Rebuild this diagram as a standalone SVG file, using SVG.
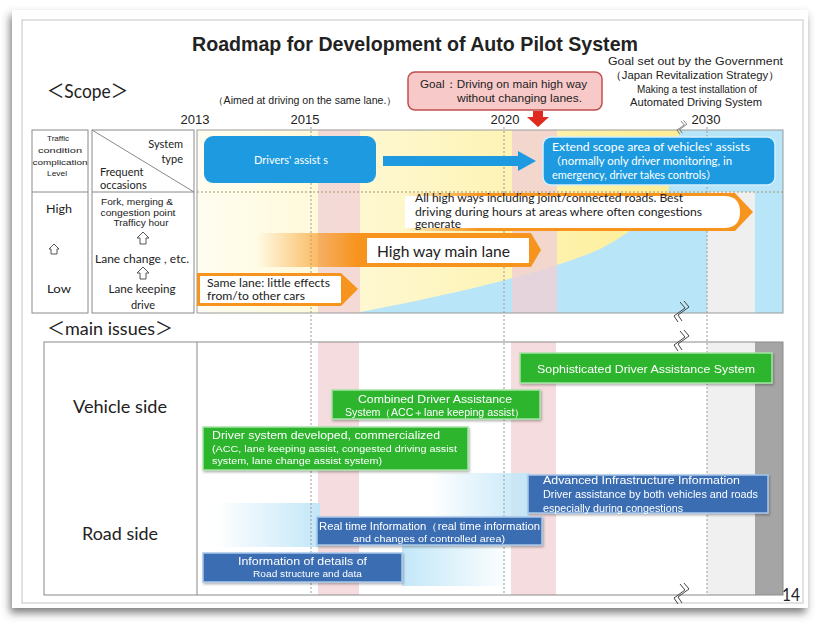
<svg xmlns="http://www.w3.org/2000/svg" width="817" height="633" viewBox="0 0 817 633">
<defs>
<style>
text{font-family:"Liberation Sans",Arial,sans-serif;fill:#222}
.cal{font-family:"Lato","Open Sans","Liberation Sans","Noto Sans CJK JP",sans-serif}
.w{fill:#fff}
.frame{fill:none;stroke:#8a8a8a;stroke-width:1}
.dash{stroke:#9a9a9a;stroke-width:1;stroke-dasharray:2 2;fill:none}
.gbox{fill:#2fb52f;stroke:#a6e3a6;stroke-width:1.5}
.bbox{fill:#3b6db3;stroke:#a9c8ea;stroke-width:1.5}
.sky{fill:#1e9be0}
.wave{fill:none;stroke:#444;stroke-width:1}
.orange{fill:#f7941d}
.uparr{fill:#fff;stroke:#555;stroke-width:1}
</style>
<linearGradient id="yel" x1="197" y1="0" x2="650" y2="0" gradientUnits="userSpaceOnUse">
<stop offset="0" stop-color="#fffdf1"/><stop offset="1" stop-color="#fdef9a"/></linearGradient>
<linearGradient id="orFade1" x1="257" y1="0" x2="357" y2="0" gradientUnits="userSpaceOnUse">
<stop offset="0" stop-color="#f7941d" stop-opacity="0"/><stop offset="1" stop-color="#f7941d"/></linearGradient>
<linearGradient id="orFade2" x1="405" y1="0" x2="480" y2="0" gradientUnits="userSpaceOnUse">
<stop offset="0" stop-color="#f7941d" stop-opacity="0"/><stop offset="1" stop-color="#f7941d"/></linearGradient>
<linearGradient id="glowL" x1="0" y1="0" x2="1" y2="0">
<stop offset="0" stop-color="#c3e7f8" stop-opacity="0"/><stop offset="1" stop-color="#c3e7f8"/></linearGradient>
<linearGradient id="glowR" x1="0" y1="0" x2="1" y2="0">
<stop offset="0" stop-color="#c3e7f8"/><stop offset="1" stop-color="#c3e7f8" stop-opacity="0"/></linearGradient>
<filter id="sh" x="-5%" y="-5%" width="110%" height="115%">
<feDropShadow dx="-2" dy="5" stdDeviation="4" flood-color="#444" flood-opacity="0.7"/></filter>
<filter id="bs" x="-10%" y="-20%" width="120%" height="150%">
<feDropShadow dx="1" dy="1.5" stdDeviation="1" flood-color="#000" flood-opacity="0.3"/></filter>
<path id="wv" d="M0,0 L5,6 L-6,14 L-2,20 M4,-1 L9,5 L-2,13 L2,19"/>
</defs>

<!-- card -->
<rect x="12" y="10" width="796" height="598" fill="#fff" filter="url(#sh)"/>
<rect x="22" y="20" width="781" height="583" fill="none" stroke="#c4c4c4" stroke-width="1"/>

<!-- headings -->
<text x="192" y="51" font-size="21" font-weight="bold" textLength="446" lengthAdjust="spacingAndGlyphs">Roadmap for Development of Auto Pilot System</text>
<text class="cal" x="47" y="98" font-size="19" textLength="81" lengthAdjust="spacingAndGlyphs">＜Scope＞</text>
<text x="213" y="104" font-size="10" textLength="184" lengthAdjust="spacingAndGlyphs">（Aimed at driving on the same lane.）</text>
<text x="195" y="124" font-size="13" text-anchor="middle">2013</text>
<text x="305" y="124" font-size="13" text-anchor="middle">2015</text>
<text x="505" y="124" font-size="13" text-anchor="middle">2020</text>
<text x="706" y="124" font-size="13" text-anchor="middle">2030</text>
<g id="gov-goal">
<text x="608" y="65" font-size="10.5" textLength="175" lengthAdjust="spacingAndGlyphs">Goal set out by the Government</text>
<text x="610" y="79" font-size="10.5" textLength="170" lengthAdjust="spacingAndGlyphs">（Japan Revitalization Strategy）</text>
<text x="637" y="93" font-size="10" textLength="120" lengthAdjust="spacingAndGlyphs">Making a test installation of</text>
<text x="630" y="106" font-size="10" textLength="132" lengthAdjust="spacingAndGlyphs">Automated Driving System</text>
</g>
<g id="goal-box">
<rect x="408" y="72" width="194" height="38" rx="7" fill="#f8c9c9" stroke="#c0504d" stroke-width="1.5"/>
<text x="420" y="88" font-size="10.5" textLength="167" lengthAdjust="spacingAndGlyphs">Goal：Driving on main high way</text>
<text x="457" y="102" font-size="10.5" textLength="125" lengthAdjust="spacingAndGlyphs">without changing lanes.</text>
</g>

<!-- upper table left -->
<g id="scope-table">
<rect class="frame" x="32" y="130" width="56" height="183" fill="#fff"/>
<rect class="frame" x="92" y="130" width="102" height="183" fill="#fff"/>
<line x1="32" y1="192" x2="88" y2="192" stroke="#8a8a8a"/>
<line x1="92" y1="192" x2="194" y2="192" stroke="#8a8a8a"/>
<line x1="92" y1="130" x2="194" y2="192" stroke="#8a8a8a"/>
<g class="cal" font-size="8" text-anchor="middle">
<text x="58" y="141" textLength="22" lengthAdjust="spacingAndGlyphs">Traffic</text>
<text x="60" y="153" textLength="44" lengthAdjust="spacingAndGlyphs">condition</text>
<text x="60" y="165" textLength="55" lengthAdjust="spacingAndGlyphs">complication</text>
<text x="57" y="176" textLength="20" lengthAdjust="spacingAndGlyphs">Level</text>
</g>
<text class="cal" x="183" y="148" font-size="11" text-anchor="end">System</text>
<text class="cal" x="183" y="163" font-size="11" text-anchor="end">type</text>
<text class="cal" x="100" y="176" font-size="11">Frequent</text>
<text class="cal" x="100" y="189" font-size="11">occasions</text>
<text class="cal" x="59" y="213" font-size="12" text-anchor="middle" textLength="26" lengthAdjust="spacingAndGlyphs">High</text>
<path class="uparr" d="M54,244 L59,249 L57,249 L57,254 L51,254 L51,249 L49,249 Z"/>
<text class="cal" x="59" y="293" font-size="12" text-anchor="middle" textLength="24" lengthAdjust="spacingAndGlyphs">Low</text>
<g class="cal" font-size="8.5" text-anchor="middle">
<text x="137" y="205" textLength="72" lengthAdjust="spacingAndGlyphs">Fork, merging &amp;</text>
<text x="138" y="216" textLength="75" lengthAdjust="spacingAndGlyphs">congestion  point</text>
<text x="141" y="226" textLength="55" lengthAdjust="spacingAndGlyphs">Trafficy hour</text>
</g>
<path class="uparr" d="M143,232 L149,238 L146,238 L146,244 L140,244 L140,238 L137,238 Z"/>
<text class="cal" x="142" y="263" font-size="10.5" text-anchor="middle" textLength="94" lengthAdjust="spacingAndGlyphs">Lane change , etc.</text>
<path class="uparr" d="M143,267 L149,273 L146,273 L146,279 L140,279 L140,273 L137,273 Z"/>
<text class="cal" x="142" y="293" font-size="11" text-anchor="middle" textLength="67" lengthAdjust="spacingAndGlyphs">Lane keeping</text>
<text class="cal" x="143" y="309" font-size="11" text-anchor="middle">drive</text>
</g>

<!-- upper chart background -->
<g id="scope-chart-bg">
<rect x="197" y="130" width="586" height="183" fill="url(#yel)"/>
<path d="M355,313 C420,301 540,276 600,249 C630,234 655,212 668,192 L680,130 L783,130 L783,313 Z" fill="#b9e5f8"/>
<rect x="318" y="130" width="42" height="183" fill="#f0cfd5" opacity="0.75"/>
<rect x="512" y="130" width="45" height="183" fill="#f0cfd5" opacity="0.8"/>
<rect x="707" y="192" width="48" height="121" fill="#efefef"/>
<line x1="197" y1="192" x2="783" y2="192" stroke="#a8956a" stroke-dasharray="2 2"/>
<rect x="197" y="130" width="586" height="183" fill="none" stroke="#9a9a9a"/>
</g>

<!-- lower section -->
<text class="cal" x="47" y="335" font-size="18" textLength="126" lengthAdjust="spacingAndGlyphs">＜main issues＞</text>
<g id="issues-bg">
<rect x="44" y="342" width="739" height="253" fill="#fff"/>
<rect x="318" y="342" width="41" height="253" fill="#f2d3d6" opacity="0.8"/>
<rect x="511" y="342" width="45" height="253" fill="#f2d3d6" opacity="0.8"/>
<rect x="707" y="342" width="48" height="253" fill="#f0f0f0"/>
<rect x="755" y="342" width="28" height="253" fill="#a5a5a5"/>
<rect x="215" y="503" width="105" height="44" fill="url(#glowL)"/>
<rect x="402" y="538" width="110" height="48" fill="url(#glowR)"/>
<rect x="430" y="473" width="100" height="44" fill="url(#glowL)"/>
<rect x="44" y="342" width="739" height="253" fill="none" stroke="#8a8a8a"/>
<line x1="197" y1="342" x2="197" y2="595" stroke="#8a8a8a"/>
<text class="cal" x="73" y="413" font-size="17" textLength="94" lengthAdjust="spacingAndGlyphs">Vehicle side</text>
<text class="cal" x="82" y="540" font-size="17" textLength="76" lengthAdjust="spacingAndGlyphs">Road side</text>
</g>

<!-- year guides -->
<g id="guides" class="dash">
<line x1="311" y1="127" x2="311" y2="595"/>
<line x1="504" y1="127" x2="504" y2="595"/>
<line x1="707" y1="127" x2="707" y2="595"/>
</g>
<g id="breaks" class="wave">
<use href="#wv" transform="translate(681,121) scale(0.65)"/>
<use href="#wv" x="680" y="302"/>
<use href="#wv" x="680" y="331"/>
<use href="#wv" x="680" y="584"/>
</g>

<!-- scope nodes -->
<g id="drivers-assist">
<rect class="sky" x="204" y="136" width="172" height="47" rx="9"/>
<text class="cal w" x="291" y="164" font-size="11" text-anchor="middle">Drivers' assist s</text>
</g>
<g id="extend-scope">
<rect class="sky" x="543" y="137" width="232" height="48" rx="8" stroke="#d3f0fc" stroke-width="1.5"/>
<text class="cal w" x="552" y="151" font-size="10.5" textLength="198" lengthAdjust="spacingAndGlyphs">Extend scope area of vehicles' assists</text>
<text class="cal w" x="550" y="165" font-size="10.5" textLength="182" lengthAdjust="spacingAndGlyphs">（normally only driver monitoring,  in</text>
<text class="cal w" x="552" y="179" font-size="10.5" textLength="165" lengthAdjust="spacingAndGlyphs">emergency, driver  takes controls）</text>
</g>
<g id="all-highways">
<path d="M405,193 L735,193 L753,212 L735,231 L405,231 Z" fill="url(#orFade2)"/>
<path d="M405,196 L724,196 Q740,196 740,212 Q740,228 724,228 L405,228 Z" fill="#fff"/>
<text class="cal" x="415" y="202" font-size="10.5" textLength="268" lengthAdjust="spacingAndGlyphs">All high ways including joint/connected roads. Best</text>
<text class="cal" x="415" y="216" font-size="10.5" textLength="287" lengthAdjust="spacingAndGlyphs">driving during hours at areas where often congestions</text>
<text class="cal" x="415" y="228" font-size="10.5" textLength="46" lengthAdjust="spacingAndGlyphs">generate</text>
</g>
<g id="highway-main-lane">
<path d="M257,233 L531,233 L541,250 L531,267 L257,267 Z" fill="url(#orFade1)"/>
<rect x="367" y="238" width="162" height="25" fill="#fff"/>
<text class="cal" x="377" y="257" font-size="15" textLength="133" lengthAdjust="spacingAndGlyphs">High way main lane</text>
</g>
<g id="same-lane">
<path class="orange" d="M197,273 L341,273 L358,289 L341,306 L197,306 Z"/>
<rect x="200" y="276" width="141" height="27" fill="#fff"/>
<text class="cal" x="207" y="287" font-size="10.5" textLength="123" lengthAdjust="spacingAndGlyphs">Same lane: little effects</text>
<text class="cal" x="207" y="300" font-size="10.5" textLength="98" lengthAdjust="spacingAndGlyphs">from/to other cars</text>
</g>

<!-- connectors -->
<g id="connectors">
<rect class="sky" x="383" y="156" width="136" height="10"/>
<polygon class="sky" points="518,151 536,161 518,171"/>
<polygon points="533,111 543,111 543,117 549,117 538,127 527,117 533,117" fill="#e02a1f"/>
</g>

<!-- issue nodes -->
<g id="sophisticated" filter="url(#bs)">
<rect class="gbox" x="520" y="353" width="252" height="30"/>
<text class="w" x="537" y="373" font-size="11" textLength="218" lengthAdjust="spacingAndGlyphs">Sophisticated Driver Assistance System</text>
</g>
<g id="combined" filter="url(#bs)">
<rect class="gbox" x="332" y="390" width="208" height="29"/>
<text class="w" x="358" y="403" font-size="10.5" textLength="154" lengthAdjust="spacingAndGlyphs">Combined Driver Assistance</text>
<text class="w" x="345" y="416" font-size="10" textLength="180" lengthAdjust="spacingAndGlyphs">System（ACC＋lane keeping assist）</text>
</g>
<g id="driver-system" filter="url(#bs)">
<rect class="gbox" x="203" y="427" width="265" height="43"/>
<text class="w" x="212" y="439" font-size="10.5" textLength="228" lengthAdjust="spacingAndGlyphs">Driver system developed,  commercialized</text>
<text class="w" x="212" y="452" font-size="8.5" textLength="245" lengthAdjust="spacingAndGlyphs">(ACC, lane keeping assist, congested driving assist</text>
<text class="w" x="212" y="464" font-size="8.5" textLength="170" lengthAdjust="spacingAndGlyphs">system, lane change assist system)</text>
</g>
<g id="advanced-infra" filter="url(#bs)">
<rect class="bbox" x="528" y="475" width="240" height="38"/>
<text class="w" x="543" y="484" font-size="10" textLength="197" lengthAdjust="spacingAndGlyphs">Advanced Infrastructure Information</text>
<text class="w" x="543" y="498" font-size="10" textLength="215" lengthAdjust="spacingAndGlyphs">Driver assistance by both vehicles and roads</text>
<text class="w" x="543" y="512" font-size="10" textLength="140" lengthAdjust="spacingAndGlyphs">especially during congestions</text>
</g>
<g id="real-time" filter="url(#bs)">
<rect class="bbox" x="317" y="517" width="225" height="28"/>
<text class="w" x="319" y="530" font-size="10" textLength="221" lengthAdjust="spacingAndGlyphs">Real time Information（real time information</text>
<text class="w" x="353" y="542" font-size="9.5" textLength="152" lengthAdjust="spacingAndGlyphs">and changes of controlled area)</text>
</g>
<g id="road-details" filter="url(#bs)">
<rect class="bbox" x="203" y="553" width="199" height="29"/>
<text class="w" x="238" y="565" font-size="10.5" textLength="129" lengthAdjust="spacingAndGlyphs">Information of details of</text>
<text class="w" x="253" y="577" font-size="8.5" textLength="109" lengthAdjust="spacingAndGlyphs">Road structure and data</text>
</g>

<text class="cal" x="782" y="601" font-size="17" textLength="18" lengthAdjust="spacingAndGlyphs">14</text>
</svg>
